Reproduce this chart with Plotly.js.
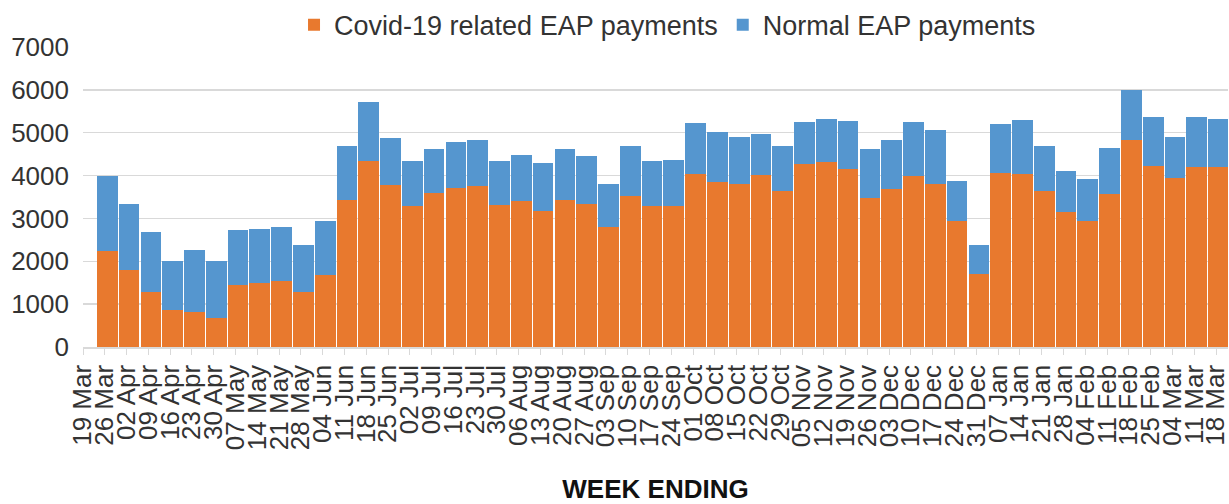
<!DOCTYPE html>
<html>
<head>
<meta charset="utf-8">
<script src="https://cdn.plot.ly/plotly-3.0.1.min.js"></script>
<style>
  html, body { margin: 0; padding: 0; background: #fff; }
  #chart { width: 1229px; height: 504px; }
</style>
</head>
<body>
<div id="chart"></div>
<script>
const weeks = ['19 Mar','26 Mar','02 Apr','09 Apr','16 Apr','23 Apr','30 Apr','07 May','14 May','21 May','28 May',
  '04 Jun','11 Jun','18 Jun','25 Jun','02 Jul','09 Jul','16 Jul','23 Jul','30 Jul','06 Aug','13 Aug','20 Aug','27 Aug',
  '03 Sep','10 Sep','17 Sep','24 Sep','01 Oct','08 Oct','15 Oct','22 Oct','29 Oct','05 Nov','12 Nov','19 Nov','26 Nov',
  '03 Dec','10 Dec','17 Dec','24 Dec','31 Dec','07 Jan','14 Jan','21 Jan','28 Jan','04 Feb','11 Feb','18 Feb','25 Feb',
  '04 Mar','11 Mar','18 Mar'];

const covidPayments = [0, 2240, 1790, 1290, 870, 820, 680, 1450, 1500, 1530, 1290,
  1680, 3420, 4350, 3780, 3280, 3590, 3700, 3760, 3320, 3410, 3180, 3440, 3340,
  2810, 3520, 3280, 3280, 4040, 3840, 3810, 4020, 3630, 4280, 4310, 4150, 3470,
  3680, 3980, 3810, 2930, 1710, 4070, 4040, 3650, 3160, 2950, 3570, 4840, 4230,
  3950, 4210, 4210];

const normalPayments = [0, 1760, 1550, 1400, 1130, 1440, 1330, 1280, 1260, 1280, 1100,
  1250, 1270, 1370, 1100, 1050, 1030, 1080, 1080, 1010, 1080, 1120, 1170, 1120,
  1000, 1180, 1050, 1090, 1190, 1170, 1100, 940, 1070, 970, 1000, 1130, 1150,
  1150, 1270, 1260, 950, 680, 1130, 1250, 1030, 950, 960, 1080, 1150, 1130,
  960, 1150, 1100];

const FONT = 'Liberation Sans, Arial, sans-serif';

const traces = [
  {
    type: 'bar', name: 'Covid-19 related EAP payments',
    x: weeks, y: covidPayments,
    marker: { color: '#E8792E', line: { width: 0 } },
    width: 0.95, offset: -0.36
  },
  {
    type: 'bar', name: 'Normal EAP payments',
    x: weeks, y: normalPayments,
    marker: { color: '#5596CF', line: { width: 0 } },
    width: 0.95, offset: -0.36
  }
];

const layout = {
  width: 1229, height: 504,
  margin: { l: 83, r: 1, t: 44, b: 157 },
  paper_bgcolor: '#fff', plot_bgcolor: '#fff',
  barmode: 'stack',
  font: { family: FONT, color: '#333', size: 26 },
  showlegend: true,
  legend: {
    orientation: 'h', traceorder: 'normal',
    x: 0.5105, xanchor: 'center',
    yref: 'paper', y: 1.0726, yanchor: 'middle',
    font: { family: FONT, size: 27, color: '#333' },
    itemwidth: 30, tracegroupgap: 0
  },
  xaxis: {
    type: 'category',
    range: [0, 52.55],
    tickmode: 'linear', tick0: 0, dtick: 1,
    tickangle: -90,
    tickfont: { family: FONT, size: 26, color: '#333' },
    ticks: 'outside', ticklen: 6, tickcolor: '#d9d9d9', tickwidth: 1,
    showline: true, linecolor: '#d9d9d9', linewidth: 1.5,
    showgrid: false, zeroline: false,
    automargin: false,
    title: { text: 'WEEK ENDING', font: { family: FONT, size: 26, color: '#111', weight: 'bold' }, standoff: 36 }
  },
  yaxis: {
    range: [0, 7000],
    tickvals: [0, 1000, 2000, 3000, 4000, 5000, 6000, 7000],
    tickfont: { family: FONT, size: 26, color: '#333' },
    showgrid: true, gridcolor: '#d9d9d9', gridwidth: 1.5,
    zeroline: false, showline: false,
    ticks: '', ticklabelstandoff: 13,
    automargin: false
  }
};

Plotly.newPlot('chart', traces, layout, { displayModeBar: false, staticPlot: true });
</script>
</body>
</html>
